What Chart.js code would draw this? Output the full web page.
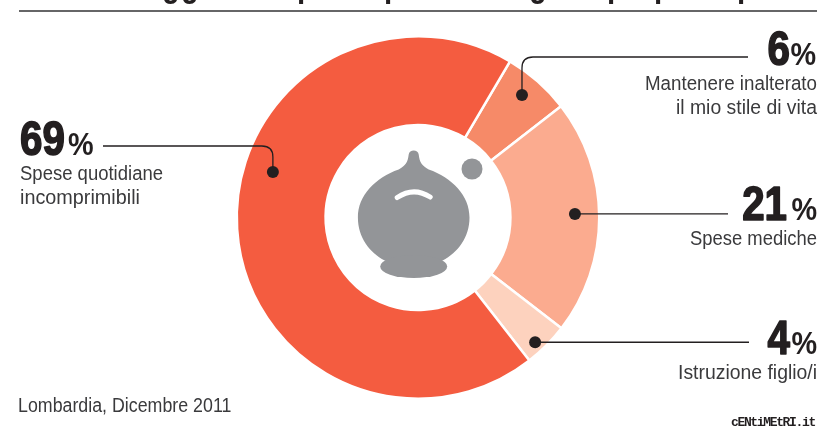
<!DOCTYPE html>
<html lang="it">
<head>
<meta charset="utf-8">
<title>Lombardia, Dicembre 2011</title>
<style>html,body{margin:0;padding:0;background:#fff}canvas{display:block}</style>
<script src="https://cdn.jsdelivr.net/npm/chart.js@4"></script>
</head>
<body>
<canvas id="c" width="823" height="429"></canvas>
<script>
const categories = ["Mantenere inalterato il mio stile di vita", "Spese mediche", "Istruzione figlio/i", "Spese quotidiane incomprimibili"];
const values = [6, 21, 4, 69];
const sliceColors = ["#F68A68", "#FBAB8F", "#FDD2BE", "#F45C40"];
const labelLines = [["Mantenere inalterato", "il mio stile di vita"], ["Spese mediche"], ["Istruzione figlio/i"], ["Spese quotidiane", "incomprimibili"]];
const footnote = "Lombardia, Dicembre 2011";
const credit = "cENtiMEtRI.it";

const SANS = '"Liberation Sans",sans-serif';
const INK = "#231F20", LABEL = "#3A3A3C", GREY = "#939598";

// Anchor of each callout relative to its slice: angle shift (deg) and radius ratio
const anchors = [[-1, .887], [-1.2, .866], [1.9, .944], [21.1, .839]];
// Callout layout: number position, label position and width, leader end
const callouts = [
  {side:"r", numRight:790, pctRight:816, numY:65,  lineYs:[90,114], lineWs:[172,141], endX:748, elbowY:57},
  {side:"r", numRight:787, pctRight:817, numY:220, lineYs:[245],    lineWs:[127],     endX:728},
  {side:"r", numRight:790, pctRight:817, numY:354, lineYs:[379],    lineWs:[139],     endX:749},
  {side:"l", numLeft:20,   pctLeft:68,   numY:155, lineYs:[180,204], lineWs:[143,120], endX:103, elbowY:146}
];

function squeezed(ctx, text, x, y, sx, heavy) {
  ctx.save();
  ctx.translate(x, y);
  ctx.scale(sx, 1);
  ctx.fillText(text, 0, 0);
  if (heavy) {
    ctx.strokeStyle = ctx.fillStyle;
    ctx.lineWidth = heavy;
    ctx.lineJoin = "round";
    ctx.strokeText(text, 0, 0);
  }
  ctx.restore();
}

const decor = {
  id: "decor",
  afterDraw(chart) {
    const ctx = chart.ctx;
    const arcs = chart.getDatasetMeta(0).data;
    const {x: cx, y: cy} = arcs[0];
    ctx.save();

    // Clipped title fragments and rule
    ctx.fillStyle = INK;
    ctx.font = "bold 36px " + SANS;
    ctx.textAlign = "left";
    ctx.textBaseline = "alphabetic";
    [["g",162],["g",181],["p",297],["p",384],["g",529],["p",607],["p",654],["p",737]].forEach(([t,x]) => squeezed(ctx, t, x, -4, .82));
    ctx.strokeStyle = "#333335";
    ctx.lineWidth = 1.4;
    ctx.beginPath(); ctx.moveTo(19, 11); ctx.lineTo(817, 11); ctx.stroke();

    // Piggy bank
    const px = cx - 4.3;
    ctx.fillStyle = GREY;
    ctx.beginPath();
    ctx.moveTo(px - 5, cy - 63);
    ctx.bezierCurveTo(px - 4.5, cy - 68.5, px + 4.5, cy - 68.5, px + 5, cy - 63);
    ctx.bezierCurveTo(px + 6, cy - 55, px + 8, cy - 52, px + 15, cy - 48);
    ctx.bezierCurveTo(px + 38, cy - 40, px + 56, cy - 22, px + 55.8, cy);
    ctx.bezierCurveTo(px + 55.8, cy + 20, px + 44, cy + 35, px + 29, cy + 43);
    ctx.bezierCurveTo(px + 15, cy + 47, px - 15, cy + 47, px - 29, cy + 43);
    ctx.bezierCurveTo(px - 44, cy + 35, px - 55.8, cy + 20, px - 55.8, cy);
    ctx.bezierCurveTo(px - 56, cy - 22, px - 38, cy - 40, px - 15, cy - 48);
    ctx.bezierCurveTo(px - 8, cy - 52, px - 6, cy - 55, px - 5, cy - 63);
    ctx.closePath();
    ctx.fill();
    ctx.beginPath();
    ctx.ellipse(px, cy + 49, 33.5, 11.5, 0, 0, Math.PI * 2);
    ctx.fill();
    ctx.beginPath();
    ctx.arc(cx + 54, cy - 48.5, 10.5, 0, Math.PI * 2);
    ctx.fill();
    ctx.strokeStyle = "#fff";
    ctx.lineWidth = 5;
    ctx.lineCap = "round";
    ctx.beginPath();
    ctx.moveTo(px - 16.5, cy - 20);
    ctx.quadraticCurveTo(px, cy - 31, px + 16.5, cy - 20.5);
    ctx.stroke();
    ctx.lineCap = "butt";

    // Callouts
    arcs.forEach((arc, i) => {
      const c = callouts[i];
      const mid = (arc.startAngle + arc.endAngle) / 2 + anchors[i][0] * Math.PI / 180;
      const r = arc.outerRadius * anchors[i][1];
      const dx = arc.x + Math.cos(mid) * r, dy = arc.y + Math.sin(mid) * r;

      ctx.strokeStyle = INK;
      ctx.lineWidth = 1.3;
      ctx.beginPath();
      if (c.elbowY !== undefined) {
        const dir = c.endX > dx ? 1 : -1, rad = 11;
        ctx.moveTo(dx, dy);
        ctx.lineTo(dx, c.elbowY + rad);
        ctx.quadraticCurveTo(dx, c.elbowY, dx + dir * rad, c.elbowY);
        ctx.lineTo(c.endX, c.elbowY);
      } else {
        ctx.moveTo(dx, dy);
        ctx.lineTo(c.endX, dy);
      }
      ctx.stroke();
      ctx.fillStyle = INK;
      ctx.beginPath(); ctx.arc(dx, dy, 6, 0, Math.PI * 2); ctx.fill();

      const num = String(values[i]);
      const right = c.side === "r";
      ctx.textAlign = right ? "right" : "left";
      ctx.font = "bold 48px " + SANS;
      squeezed(ctx, num, right ? c.numRight : c.numLeft, c.numY, .84, 1.6);
      ctx.font = "bold 32px " + SANS;
      squeezed(ctx, "%", right ? c.pctRight : c.pctLeft, c.numY, .9);
      ctx.font = "20px " + SANS;
      ctx.fillStyle = LABEL;
      labelLines[i].forEach((line, k) => {
        const sx = c.lineWs[k] / ctx.measureText(line).width;
        squeezed(ctx, line, right ? 817 : 20, c.lineYs[k], sx);
      });
    });

    // Footnote and credit
    ctx.textAlign = "left";
    ctx.fillStyle = LABEL;
    ctx.font = "20px " + SANS;
    squeezed(ctx, footnote, 18, 412, .89);
    ctx.fillStyle = INK;
    ctx.font = 'bold 13px "Liberation Mono",monospace';
    ctx.letterSpacing = "-1.35px";
    ctx.fillText(credit, 731, 426);
    ctx.letterSpacing = "0px";
    ctx.restore();
  }
};

new Chart(document.getElementById("c"), {
  type: "doughnut",
  data: {
    labels: categories,
    datasets: [{
      data: values,
      backgroundColor: sliceColors,
      borderColor: "#fff",
      borderWidth: 2.5,
      hoverOffset: 0
    }]
  },
  options: {
    responsive: false,
    animation: false,
    rotation: 30.5,
    cutout: "51%",
    layout: {padding: {top: 35, bottom: 29, left: 13, right: 0}},
    plugins: {legend: {display: false}, tooltip: {enabled: false}, title: {display: false}}
  },
  plugins: [decor]
});
</script>
</body>
</html>
